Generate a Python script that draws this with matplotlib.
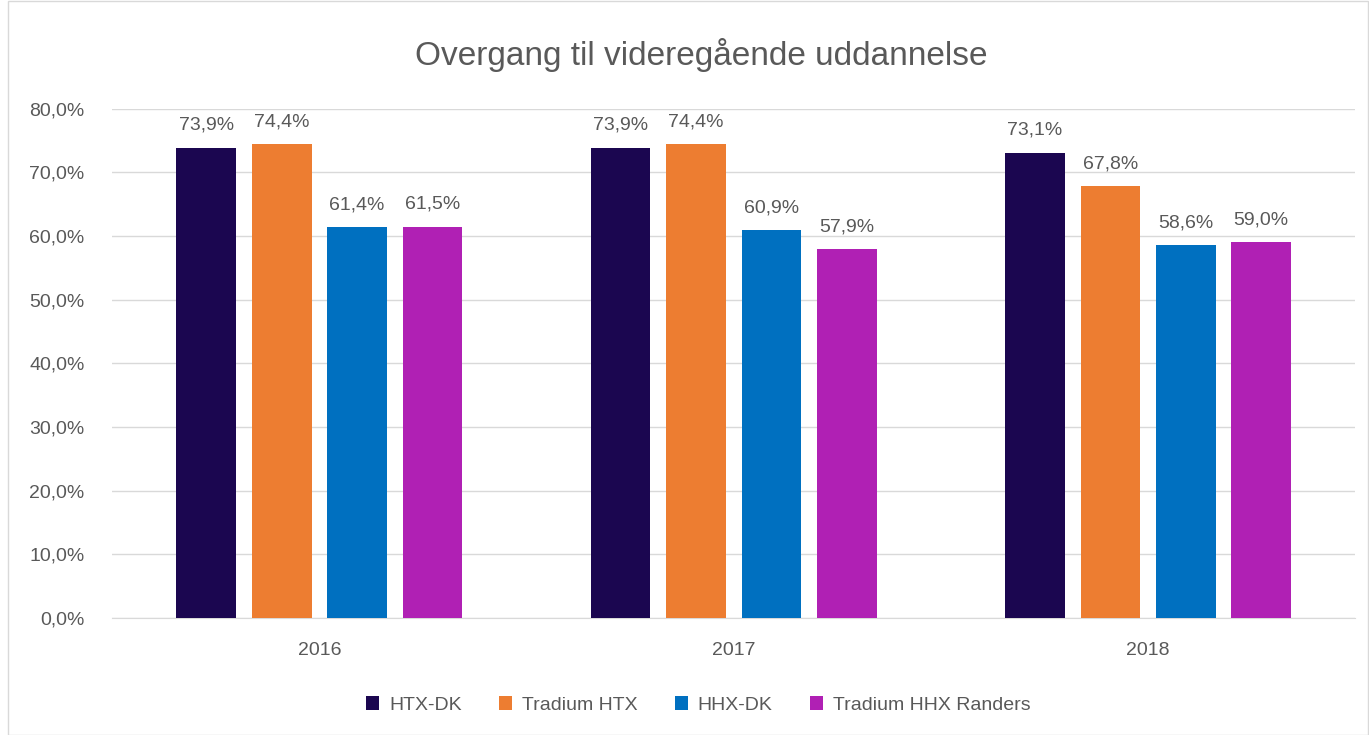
import numpy as np
import matplotlib.pyplot as plt
from matplotlib.patches import Rectangle

plt.rcParams["font.family"] = ["Liberation Sans", "DejaVu Sans"]

years = ["2016", "2017", "2018"]
series_names = ["HTX-DK", "Tradium HTX", "HHX-DK", "Tradium HHX Randers"]
htx_dk = [0.739, 0.739, 0.731]
tradium_htx = [0.744, 0.744, 0.678]
hhx_dk = [0.614, 0.609, 0.586]
tradium_hhx = [0.615, 0.579, 0.590]
colors = ["#1b0650", "#ed7d31", "#0070c0", "#b020b4"]

values = [htx_dk, tradium_htx, hhx_dk, tradium_hhx]
text_col = "#595959"

fig = plt.figure(figsize=(13.69, 7.35), dpi=100)
ax = fig.add_axes([0.082, 0.159, 0.908, 0.693])

x = np.arange(len(years))
width = 0.144
pitch = 0.182
for i, (name, vals, c) in enumerate(zip(series_names, values, colors)):
    pos = x + (i - 1.5) * pitch
    bars = ax.bar(pos, vals, width, color=c, label=name, zorder=3)
    for b, v in zip(bars, vals):
        ax.annotate(f"{v * 100:.1f}%".replace(".", ","),
                    (b.get_x() + b.get_width() / 2, v),
                    xytext=(0, 10), textcoords="offset points",
                    ha="center", va="bottom", fontsize=14, color=text_col)

ax.set_ylim(0, 0.8)
ax.set_xlim(-0.5, 2.5)
ax.set_yticks(np.arange(0, 0.81, 0.1))
ax.set_yticklabels([f"{t * 100:.1f}%".replace(".", ",") for t in np.arange(0, 0.81, 0.1)])
ax.set_xticks(x)
ax.set_xticklabels(years)
ax.tick_params(axis="both", length=0, labelsize=14, colors=text_col)
ax.tick_params(axis="y", pad=20)
ax.tick_params(axis="x", pad=17)
ax.grid(axis="y", color="#d9d9d9", linewidth=1, zorder=0)
for s in ["top", "right", "left"]:
    ax.spines[s].set_visible(False)
ax.spines["bottom"].set_color("#d9d9d9")

fig.text(0.512, 0.925, "Overgang til videregående uddannelse",
         ha="center", va="center", fontsize=24, color=text_col)

fig.legend(loc="lower center", bbox_to_anchor=(0.51, 0.005), ncol=4,
           frameon=False, fontsize=14, handlelength=0.7, handleheight=0.7,
           columnspacing=1.9, handletextpad=0.5, labelcolor=text_col)

fig.patches.append(Rectangle((0.006, 0.0), 0.993, 0.998, transform=fig.transFigure,
                             fill=False, edgecolor="#d9d9d9", linewidth=1))

fig.savefig("out.png", dpi=100)
